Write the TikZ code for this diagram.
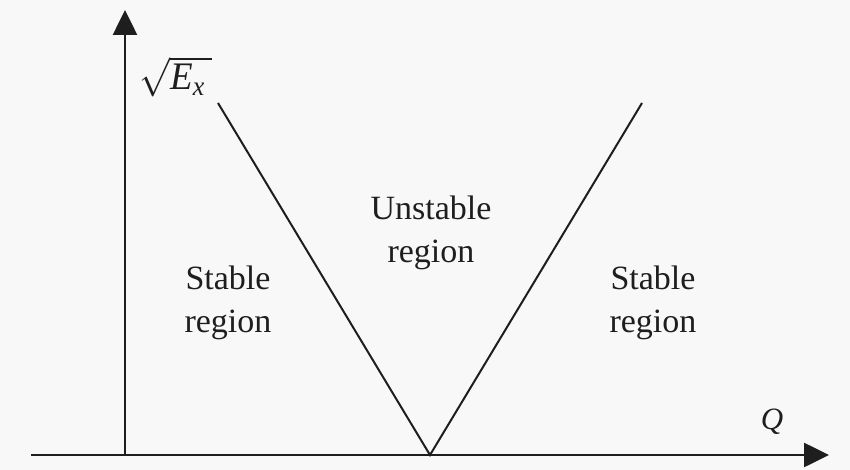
\documentclass[tikz,border=0pt]{standalone}
\usepackage{fontspec}
\usepackage{graphicx}
\setmainfont{Liberation Serif}
\usetikzlibrary{arrows.meta}
\definecolor{bg}{HTML}{F8F8F8}
\definecolor{ink}{HTML}{1E1E1E}
\tikzset{
  axis/.style={draw=ink, line width=2.6pt, -{Triangle[width=24pt,length=25pt]}},
  vline/.style={draw=ink, line width=2pt},
  lbl/.style={text=ink, font=\fontsize{34}{43}\selectfont, align=center, inner sep=0pt, anchor=base},
}
\begin{document}
\begin{tikzpicture}[x=1pt,y=-1pt]
  \fill[bg] (0,0) rectangle (850,470);
  \useasboundingbox (0,0) rectangle (850,470);
  \coordinate (o) at (125,455);
  \coordinate (xl) at (31,455);
  \coordinate (xe) at (829,455);
  \coordinate (ye) at (125,10);
  \coordinate (vl) at (218,103);
  \coordinate (vb) at (430,455);
  \coordinate (vr) at (642,103);
  \draw[axis] (xl) -- (xe);
  \draw[axis] (o) -- (ye);
  \draw[vline] (vl) -- (vb) -- (vr);
  \node[text=ink, inner sep=0pt] (ylab) at (176,77) {\scalebox{3.7}[3.9]{$\sqrt{\mbox{\itshape E}_{\mbox{\scriptsize\itshape x}}\,}$}};
  \node[text=ink, inner sep=0pt, font=\fontsize{31}{34}\selectfont\itshape, anchor=base] (xlab) at (772,429) {Q};
  \node[lbl] (uns) at (431,262) {Unstable\\region};
  \node[lbl] (sl) at (228,332) {Stable\\region};
  \node[lbl] (sr) at (653,332) {Stable\\region};
\end{tikzpicture}
\end{document}
